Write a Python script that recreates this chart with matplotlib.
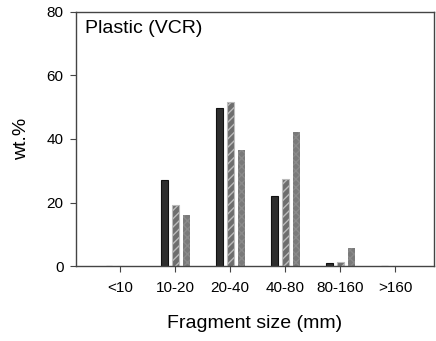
import matplotlib
matplotlib.use("Agg")
import matplotlib.pyplot as plt
import numpy as np

plt.rcParams['font.family'] = ['Liberation Sans', 'DejaVu Sans']
plt.rcParams['hatch.linewidth'] = 1.0

categories = ["<10", "10-20", "20-40", "40-80", "80-160", ">160"]
series_a = [0, 27.1, 49.9, 22.0, 0.9, 0]
series_b = [0, 19.1, 51.8, 27.3, 1.35, 0]
series_c = [0, 16.0, 36.4, 42.2, 5.7, 0]

fig = plt.figure(figsize=(4.36, 3.41), dpi=100)
ax = fig.add_axes([76/436, 1 - 266/341, (434-76)/436, (266-12)/341])

x = np.arange(len(categories))
w = 0.125
off = 0.2

ax.bar(x - off, series_a, w, color="#2e2e2e", edgecolor="#111111", linewidth=0.8)
plt.rcParams['hatch.color'] = "#bbbbbb"
ax.bar(x, series_b, w, color="#6e6e6e", edgecolor="#bbbbbb", linewidth=0.8, hatch="////")
ax.bar(x + off, series_c, w, color="#7a7a7a", edgecolor="#8a8a8a", linewidth=0.0, hatch="xxxx")

ax.set_xlim(-0.8, 5.7)
ax.set_ylim(0, 80)
ax.set_yticks([0, 20, 40, 60, 80])
ax.set_xticks(x)
ax.set_xticklabels(categories)
for s in ax.spines.values():
    s.set_color("#444444")
    s.set_linewidth(1.0)
ax.tick_params(axis='both', direction='out', length=4, color="#444444", labelsize=11, pad=5)
ax.tick_params(axis='x', pad=7)
ax.set_ylabel("wt.%", fontsize=14, labelpad=12)
ax.set_xlabel("Fragment size (mm)", fontsize=14, labelpad=14)
ax.text(0.025, 0.968, "Plastic (VCR)", transform=ax.transAxes, fontsize=14, va='top', ha='left')

fig.savefig("out.png", dpi=100)
